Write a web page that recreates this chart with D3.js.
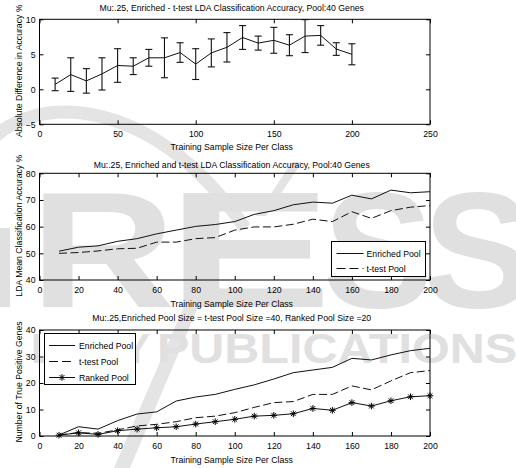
<!DOCTYPE html>
<html>
<head>
<meta charset="utf-8">
<script src="https://cdn.jsdelivr.net/npm/d3@7"></script>
<style>
body { margin: 0; background: #fff; }
text { font-family: "Liberation Sans", Arial, Helvetica, sans-serif; font-size: 8.7px; fill: #000; }
.wm text { font-weight: bold; fill: #e0e0e0; }
</style>
</head>
<body>
<div id="chart"></div>
<script>
// training sample size per class
var sampleSize = [10, 20, 30, 40, 50, 60, 70, 80, 90, 100, 110, 120, 130, 140, 150, 160, 170, 180, 190, 200];

// panel 1: enriched - t-test difference, mean and error
var diffMean = [0.7, 2.1, 1.2, 2.2, 3.4, 3.3, 4.5, 4.5, 5.25, 3.6, 5.2, 6.0, 7.4, 6.6, 7.0, 6.3, 7.6, 7.7, 5.75, 5.0];
var diffErr  = [0.9, 2.4, 1.75, 2.3, 2.4, 1.2, 1.2, 2.85, 1.4, 2.2, 2.0, 2.1, 1.7, 1.0, 1.85, 1.5, 2.35, 1.4, 0.9, 1.5];

// panel 2: LDA mean classification accuracy
var enrichedAcc = [50.8, 52.3, 52.8, 54.5, 55.5, 57.3, 58.7, 60.1, 60.8, 61.9, 64.6, 66.0, 68.2, 69.2, 68.8, 71.8, 70.4, 73.7, 72.7, 73.1];
var ttestAcc    = [50.0, 50.3, 50.9, 51.7, 51.9, 54.2, 54.2, 55.5, 55.9, 58.7, 59.9, 59.9, 60.9, 62.8, 61.9, 65.6, 63.1, 66.0, 67.3, 67.9];

// panel 3: number of true positive genes
var enrichedTP = [0.4, 3.5, 2.6, 5.8, 8.3, 9.1, 13.2, 14.7, 15.7, 17.6, 19.3, 21.5, 23.9, 24.9, 25.9, 29.3, 28.7, 30.6, 32.2, 33.1];
var ttestTP    = [0.4, 1.3, 1.0, 2.3, 3.8, 4.4, 5.4, 6.9, 7.5, 8.8, 10.8, 12.6, 13.0, 15.7, 15.7, 18.9, 17.4, 20.8, 23.9, 24.7];
var rankedTP   = [0.3, 1.2, 0.6, 2.0, 2.6, 3.1, 3.5, 4.5, 5.4, 6.3, 7.5, 7.8, 8.4, 10.4, 9.7, 12.6, 11.3, 13.3, 14.8, 15.2];

var titles = [
    "Mu:.25, Enriched - t-test LDA Classification Accuracy, Pool:40 Genes",
    "Mu:.25, Enriched and t-test LDA Classification Accuracy, Pool:40 Genes",
    "Mu:.25,Enriched Pool Size = t-test Pool Size =40, Ranked Pool Size =20"
];
var yLabels = ["Absolute Difference in Accuracy %", "LDA Mean Classification Accuracy %", "Number of True Positive Genes"];
var xLabel = "Training Sample Size Per Class";
var legendNames = ["Enriched Pool", "t-test Pool", "Ranked Pool"];

var width = 516, height = 468;

var svg = d3.select("#chart").append("svg")
    .attr("width", width)
    .attr("height", height);

// faint publisher watermark behind the plots
var wm = svg.append("g").attr("class", "wm");
wm.append("path")
    .attr("d", "M-10,142 C30,95 150,90 245,228")
    .attr("fill", "none")
    .attr("stroke", "#e4e4e4")
    .attr("stroke-width", 13);
wm.append("path")
    .attr("d", "M292,162 L302,162 L266,216 L256,216 Z")
    .attr("fill", "#e4e4e4");
wm.append("path")
    .attr("d", "M192,288 L206,288 L130,468 L114,468 Z")
    .attr("fill", "#e4e4e4");
wm.append("rect")
    .attr("x", 0).attr("y", 228).attr("width", 10).attr("height", 79)
    .attr("fill", "#e0e0e0");
// big letters: [char, x, horizontal stretch]
[["R", 30, 1.22], ["E", 167, 1.5], ["S", 323, 1.0], ["S", 423, 1.0]].forEach(function(l) {
    wm.append("text")
        .attr("transform", "translate(" + l[1] + ",307) scale(" + l[2] + ",1)")
        .style("font-size", "165px")
        .text(l[0]);
});
wm.append("text").attr("x", 150).attr("y", 363).attr("text-anchor", "end")
    .style("font-size", "42px").text("LOGY");
wm.append("text").attr("x", 157).attr("y", 363)
    .attr("textLength", 360).attr("lengthAdjust", "spacingAndGlyphs")
    .style("font-size", "42px").text("PUBLICATIONS");

var left = 39.5, right = 430;

function makePanel(top, bottom, xDomain, xTicks, yDomain, yTicks, title, yLabel, titleY, xLabelY) {
    var x = d3.scaleLinear().domain(xDomain).range([left, right]);
    var y = d3.scaleLinear().domain(yDomain).range([bottom, top]);
    var g = svg.append("g");

    var xAxis = d3.axisBottom(x).tickValues(xTicks).tickSizeInner(-4).tickSizeOuter(0).tickPadding(7);
    var yAxis = d3.axisLeft(y).tickValues(yTicks).tickSizeInner(-4).tickSizeOuter(0).tickPadding(4);

    g.append("g").attr("transform", "translate(0," + bottom + ")").call(xAxis);
    g.append("g").attr("transform", "translate(" + left + ",0)").call(yAxis);
    g.append("g").attr("transform", "translate(0," + top + ")")
        .call(d3.axisTop(x).tickValues(xTicks).tickSizeInner(-4).tickSizeOuter(0).tickFormat(""));
    g.append("g").attr("transform", "translate(" + right + ",0)")
        .call(d3.axisRight(y).tickValues(yTicks).tickSizeInner(-4).tickSizeOuter(0).tickFormat(""));

    g.selectAll(".domain").remove();
    g.selectAll(".tick line").attr("stroke", "#000");
    g.selectAll(".tick text").style("font-size", "8.7px").attr("fill", "#000");

    g.append("rect")
        .attr("x", left).attr("y", top)
        .attr("width", right - left).attr("height", bottom - top)
        .attr("fill", "none").attr("stroke", "#000");

    g.append("text")
        .attr("x", (left + right) / 2 - 3).attr("y", titleY)
        .attr("text-anchor", "middle")
        .text(title);
    g.append("text")
        .attr("x", (left + right) / 2 - 3).attr("y", xLabelY)
        .attr("text-anchor", "middle")
        .text(xLabel);
    g.append("text")
        .attr("transform", "translate(22," + ((top + bottom) / 2 - 1) + ") rotate(-90)")
        .attr("text-anchor", "middle")
        .text(yLabel);

    return {g: g, x: x, y: y};
}

function star(r) {
    var a = r * 0.72;
    return "M" + (-r) + ",0L" + r + ",0M0," + (-r) + "L0," + r +
        "M" + (-a) + "," + (-a) + "L" + a + "," + a + "M" + (-a) + "," + a + "L" + a + "," + (-a);
}

// ---- panel 1: difference with error bars
var p1 = makePanel(19.3, 124.3, [0, 250], d3.range(0, 251, 50), [-5, 10], [-5, 0, 5, 10],
    titles[0], yLabels[0], 11, 150);

var bars = p1.g.selectAll(".errbar")
    .data(sampleSize)
    .enter().append("g")
    .attr("class", "errbar")
    .attr("stroke", "#111")
    .attr("stroke-width", 1.1);
bars.append("line")
    .attr("x1", function(d) { return p1.x(d); })
    .attr("x2", function(d) { return p1.x(d); })
    .attr("y1", function(d, i) { return p1.y(diffMean[i] - diffErr[i]); })
    .attr("y2", function(d, i) { return p1.y(diffMean[i] + diffErr[i]); });
bars.append("line")
    .attr("x1", function(d) { return p1.x(d) - 3.5; })
    .attr("x2", function(d) { return p1.x(d) + 3.5; })
    .attr("y1", function(d, i) { return p1.y(diffMean[i] - diffErr[i]); })
    .attr("y2", function(d, i) { return p1.y(diffMean[i] - diffErr[i]); });
bars.append("line")
    .attr("x1", function(d) { return p1.x(d) - 3.5; })
    .attr("x2", function(d) { return p1.x(d) + 3.5; })
    .attr("y1", function(d, i) { return p1.y(diffMean[i] + diffErr[i]); })
    .attr("y2", function(d, i) { return p1.y(diffMean[i] + diffErr[i]); });

p1.g.append("path")
    .datum(sampleSize)
    .attr("fill", "none").attr("stroke", "#111")
    .attr("d", d3.line()
        .x(function(d) { return p1.x(d); })
        .y(function(d, i) { return p1.y(diffMean[i]); }));

// ---- panel 2: mean accuracy
var p2 = makePanel(173.3, 280, [0, 200], d3.range(0, 201, 20), [40, 80], d3.range(40, 81, 10),
    titles[1], yLabels[1], 168, 307);

function seriesLine(p, values) {
    return d3.line()
        .x(function(d) { return p.x(d); })
        .y(function(d, i) { return p.y(values[i]); });
}

p2.g.append("path").datum(sampleSize)
    .attr("fill", "none").attr("stroke", "#111")
    .attr("d", seriesLine(p2, enrichedAcc));
p2.g.append("path").datum(sampleSize)
    .attr("fill", "none").attr("stroke", "#111").attr("stroke-dasharray", "8,3.5")
    .attr("d", seriesLine(p2, ttestAcc));

var leg2 = p2.g.append("g");
leg2.append("rect")
    .attr("x", 331.5).attr("y", 241.5).attr("width", 94).attr("height", 35)
    .attr("fill", "#fff").attr("stroke", "#000");
[0, 1].forEach(function(k) {
    var ly = 253.5 + k * 15;
    leg2.append("line")
        .attr("x1", 336.5).attr("x2", 363.5).attr("y1", ly).attr("y2", ly)
        .attr("stroke", "#111")
        .attr("stroke-dasharray", k === 1 ? "9,4" : null);
    leg2.append("text").attr("x", 366.5).attr("y", ly + 3.2).text(legendNames[k]);
});

// ---- panel 3: true positive genes
var p3 = makePanel(330, 436, [0, 200], d3.range(0, 201, 20), [0, 40], d3.range(0, 41, 10),
    titles[2], yLabels[2], 321, 463);

p3.g.append("path").datum(sampleSize)
    .attr("fill", "none").attr("stroke", "#111")
    .attr("d", seriesLine(p3, enrichedTP));
p3.g.append("path").datum(sampleSize)
    .attr("fill", "none").attr("stroke", "#111").attr("stroke-dasharray", "8,3.5")
    .attr("d", seriesLine(p3, ttestTP));
p3.g.append("path").datum(sampleSize)
    .attr("fill", "none").attr("stroke", "#111")
    .attr("d", seriesLine(p3, rankedTP));
p3.g.selectAll(".star")
    .data(sampleSize)
    .enter().append("path")
    .attr("class", "star")
    .attr("transform", function(d, i) { return "translate(" + p3.x(d) + "," + p3.y(rankedTP[i]) + ")"; })
    .attr("d", star(3.3))
    .attr("stroke", "#000").attr("fill", "none");

var leg3 = p3.g.append("g");
leg3.append("rect")
    .attr("x", 44.5).attr("y", 333.5).attr("width", 91).attr("height", 51)
    .attr("fill", "#fff").attr("stroke", "#000");
[0, 1, 2].forEach(function(k) {
    var ly = 345.5 + k * 16;
    leg3.append("line")
        .attr("x1", 49).attr("x2", 75).attr("y1", ly).attr("y2", ly)
        .attr("stroke", "#111")
        .attr("stroke-dasharray", k === 1 ? "9,4" : null);
    if (k === 2) {
        leg3.append("path").attr("transform", "translate(62," + ly + ")")
            .attr("d", star(3.3)).attr("stroke", "#000").attr("fill", "none");
    }
    leg3.append("text").attr("x", 79).attr("y", ly + 3.2).text(legendNames[k]);
});
</script>
</body>
</html>
